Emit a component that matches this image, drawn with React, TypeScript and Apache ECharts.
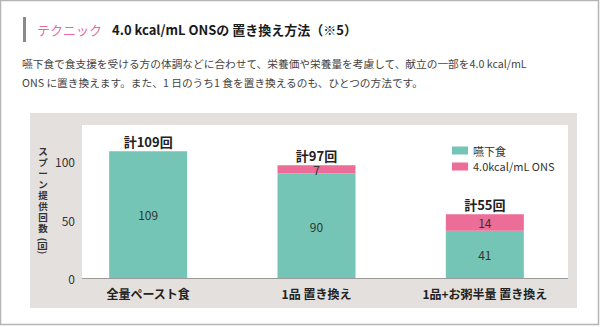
import React, { useEffect, useRef } from "react";
import * as echarts from "echarts";

const categories = ["全量ペースト食", "1品 置き換え", "1品+お粥半量 置き換え"];
const swallowFood = [109, 90, 41];
const onsValues = [0, 7, 14];
const totals = [109, 97, 55];
const seriesNames = ["嚥下食", "4.0kcal/mL ONS"];
const yTicks = [0, 50, 100];
const yAxisTitle = "スプーン提供回数";
const yAxisUnit = "(回)";

const TEAL = "#74c5b5";
const PINK = "#ec6d97";
const FONT = "'Noto Sans CJK JP', 'Noto Sans', sans-serif";

export default function App() {
  const ref = useRef<HTMLDivElement>(null);
  useEffect(() => {
    if (!ref.current) return;
    const chart = echarts.init(ref.current, null, { renderer: "svg" });
    const nameChars = yAxisTitle.split("").map((ch, i) => ({
      type: "text",
      x: 43,
      y: 151 + i * 11,
      style: { text: ch, fill: "#333", font: `bold 9.5px ${FONT}`, align: "center", verticalAlign: "middle" },
    }));
    chart.setOption({
      animation: false,
      backgroundColor: "#ffffff",
      textStyle: { fontFamily: FONT },
      graphic: [
        { type: "rect", shape: { x: 0.5, y: 0.5, width: 598, height: 324 }, style: { fill: "none", stroke: "#b5b5b5", lineWidth: 1.5 }, z: -10 },
        { type: "rect", shape: { x: 23, y: 17, width: 3, height: 25 }, style: { fill: "#8a8a8a" } },
        { type: "text", x: 37, y: 29.5, style: { text: "テクニック", fill: "#e8689a", font: `13px ${FONT}`, verticalAlign: "middle" } },
        { type: "text", x: 112, y: 29.5, style: { text: "4.0 kcal/mL ONSの 置き換え方法（※5）", fill: "#1a1a1a", font: `bold 13px ${FONT}`, verticalAlign: "middle" } },
        { type: "text", x: 22, y: 63, style: { text: "嚥下食で食支援を受ける方の体調などに合わせて、栄養価や栄養量を考慮して、献立の一部を4.0 kcal/mL", fill: "#444", font: `10.7px ${FONT}`, verticalAlign: "middle" } },
        { type: "text", x: 22, y: 82, style: { text: "ONS に置き換えます。また、1 日のうち1 食を置き換えるのも、ひとつの方法です。", fill: "#444", font: `10.7px ${FONT}`, verticalAlign: "middle" } },
        { type: "rect", shape: { x: 30, y: 113, width: 547, height: 195 }, style: { fill: "#e4e0dd" }, z: -5 },
        { type: "rect", shape: { x: 82, y: 125, width: 486, height: 153 }, style: { fill: "#ffffff" }, z: -4 },
        { type: "line", shape: { x1: 82, y1: 278.5, x2: 568, y2: 278.5 }, style: { stroke: "#9a9a9a", lineWidth: 1.2 }, z: 5 },
        ...nameChars,
        { type: "text", x: 43, y: 246, rotation: -Math.PI / 2, style: { text: yAxisUnit, fill: "#333", font: `bold 9.5px ${FONT}`, align: "center", verticalAlign: "middle" } },
      ],
      legend: {
        data: seriesNames,
        orient: "vertical",
        left: 447,
        top: 140,
        itemWidth: 16,
        itemHeight: 8,
        itemGap: 5,
        icon: "rect",
        textStyle: { fontSize: 11, color: "#333", fontFamily: FONT },
      },
      grid: { left: 64, right: 31, top: 103.5, bottom: 48.5 },
      xAxis: {
        type: "category",
        data: categories,
        axisLine: { show: false },
        axisTick: { show: false },
        axisLabel: { color: "#222", fontSize: 12, fontWeight: "bold", margin: 9, fontFamily: FONT },
      },
      yAxis: {
        type: "value",
        min: yTicks[0],
        max: 150,
        interval: 50,
        axisLine: { show: false },
        axisTick: { show: false },
        splitLine: { show: false },
        axisLabel: { color: "#333", fontSize: 12, margin: -11, showMaxLabel: false, fontFamily: FONT },
      },
      series: [
        {
          name: seriesNames[0],
          type: "bar",
          stack: "t",
          barWidth: 78,
          data: swallowFood,
          itemStyle: { color: TEAL },
          label: { show: true, position: "inside", color: "#333", fontSize: 12, fontFamily: FONT },
        },
        {
          name: seriesNames[1],
          type: "bar",
          stack: "t",
          barWidth: 78,
          data: onsValues,
          itemStyle: { color: PINK },
          label: {
            show: true,
            position: "inside",
            color: "#333",
            fontSize: 12,
            fontFamily: FONT,
            formatter: (p: any) => (p.value > 0 ? String(p.value) : ""),
          },
        },
        {
          name: "total",
          type: "bar",
          stack: "t",
          barWidth: 78,
          data: totals.map(() => 0),
          itemStyle: { color: "transparent" },
          label: {
            show: true,
            position: "top",
            distance: 3,
            color: "#222",
            fontSize: 13,
            fontWeight: "bold",
            fontFamily: FONT,
            formatter: (p: any) => `計${totals[p.dataIndex]}回`,
          },
        },
      ],
    });
    return () => chart.dispose();
  }, []);
  return <div ref={ref} style={{ position: "fixed", left: 0, top: 0, width: 600, height: 327 }} />;
}
